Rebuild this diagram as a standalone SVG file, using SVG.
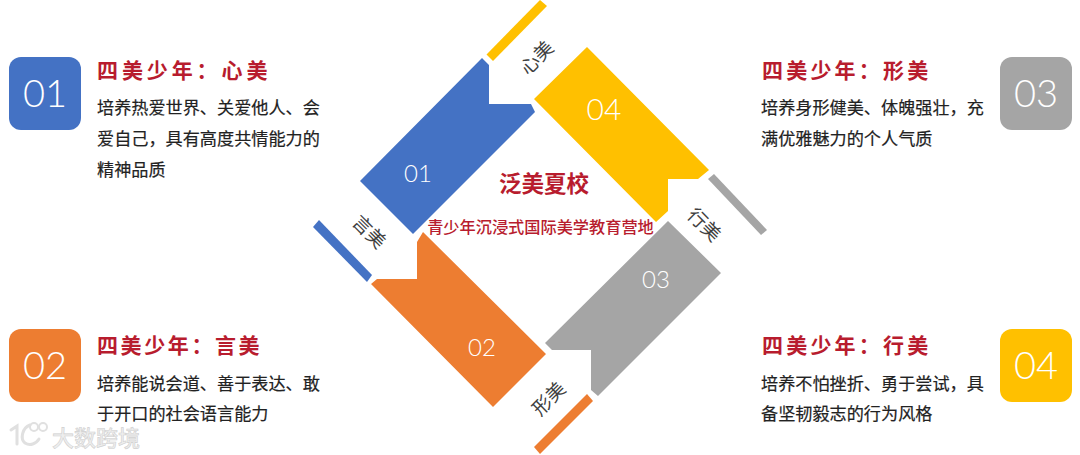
<svg xmlns="http://www.w3.org/2000/svg" width="1080" height="455" viewBox="0 0 1080 455">
<style>
text{font-family:"Noto Sans CJK SC","Noto Sans",sans-serif}
.num{font-family:Lato,"Liberation Sans",sans-serif;font-weight:300;fill:#fff;text-anchor:middle}
.big{font-size:38px}
.mid{font-size:24px}
.title{font-size:21px;font-weight:700;fill:#b81c2e;letter-spacing:3.2px}
.body{font-size:17.15px;fill:#222;stroke:#222;stroke-width:.2px}
.lab{font-size:19px;fill:#404040;text-anchor:middle}
.red{fill:#b81c2e;text-anchor:middle}
.wm{font-size:22px;font-weight:500;fill:#eee;stroke:#d0d0d0;stroke-width:.6px}
.wml{fill:none;stroke:#e0e0e0;stroke-width:3px;stroke-linecap:round}
</style>
<rect width="1080" height="455" fill="#fff"/>
<g id="connectors">
<polygon points="486.500,54.500 540,0 547,6 493,61" fill="#ffc000"/>
<polygon points="708,179 714,174 767,230 761,235" fill="#a5a5a5"/>
<polygon points="313,227 319,220 372,275 367,282" fill="#4472c4"/>
<polygon points="587,394 593,401 540,454 534,447" fill="#ed7d31"/>
</g>
<g id="diamond-01"><polygon points="482,58 489,65 489,104 531,104 535,112 413,234 360,181" fill="#4472c4"/><text class="num mid" x="418" y="182">01</text></g>
<g id="diamond-04"><polygon points="587,47 709,170 698,179 668,179 668,211 656,222 534,99" fill="#ffc000"/><text class="num big" style="font-size:30px" x="604" y="120">04</text></g>
<g id="diamond-02"><polygon points="423,232 417,242 417,279 377,279 371,284 493,407 546,354" fill="#ed7d31"/><text class="num mid" x="482" y="356">02</text></g>
<g id="diamond-03"><polygon points="668,221 721,273 598,396 591,390 591,350 552,350 545,343" fill="#a5a5a5"/><text class="num mid" x="656" y="288">03</text></g>
<g id="center"><text class="red" x="544" y="192" font-size="22.5" font-weight="700">泛美夏校</text><text class="red" x="540.500" y="233" font-size="16.2" font-weight="500">青少年沉浸式国际美学教育营地</text></g>
<g id="labels">
<text class="lab" transform="translate(537 58) rotate(-45)" y="6.5">心美</text>
<text class="lab" transform="translate(704 225) rotate(45)" y="6.5">行美</text>
<text class="lab" transform="translate(369 232) rotate(45)" y="6.5">言美</text>
<text class="lab" transform="translate(549 399) rotate(-45)" y="6.5">形美</text>
</g>
<g id="card-01"><rect x="9" y="57" width="72" height="73" rx="12" fill="#4472c4"/><text class="num big" x="45" y="107">01</text><text class="title" x="97" y="78" style="letter-spacing:3.9px">四美少年：心美</text><text class="body" x="97" y="114">培养热爱世界、关爱他人、会</text><text class="body" x="97" y="145">爱自己，具有高度共情能力的</text><text class="body" x="97" y="176">精神品质</text></g>
<g id="card-02"><rect x="9" y="329" width="72" height="73" rx="12" fill="#ed7d31"/><text class="num big" x="45" y="379">02</text><text class="title" x="97" y="353" style="letter-spacing:2.6px">四美少年：言美</text><text class="body" x="97" y="390">培养能说会道、善于表达、敢</text><text class="body" x="97" y="420">于开口的社会语言能力</text></g>
<g id="card-03"><rect x="1000" y="57" width="72" height="73" rx="12" fill="#a5a5a5"/><text class="num big" x="1036" y="107">03</text><text class="title" x="762" y="78">四美少年：形美</text><text class="body" x="761" y="114">培养身形健美、体魄强壮，充</text><text class="body" x="761" y="145">满优雅魅力的个人气质</text></g>
<g id="card-04"><rect x="1000" y="329" width="72" height="73" rx="12" fill="#ffc000"/><text class="num big" x="1036" y="379">04</text><text class="title" x="762" y="353">四美少年：行美</text><text class="body" x="761" y="390">培养不怕挫折、勇于尝试，具</text><text class="body" x="761" y="420">备坚韧毅志的行为风格</text></g>
<g id="watermark"><path class="wml" d="M11 430l6-4v18M30 425c-8 3-10 14-5 18 5 3 11 1 14-4"/><circle class="wml" cx="34" cy="427" r="4" style="stroke-width:2"/><circle class="wml" cx="43" cy="427" r="4" style="stroke-width:2"/><text class="wm" x="52" y="446">大数跨境</text></g>
</svg>
